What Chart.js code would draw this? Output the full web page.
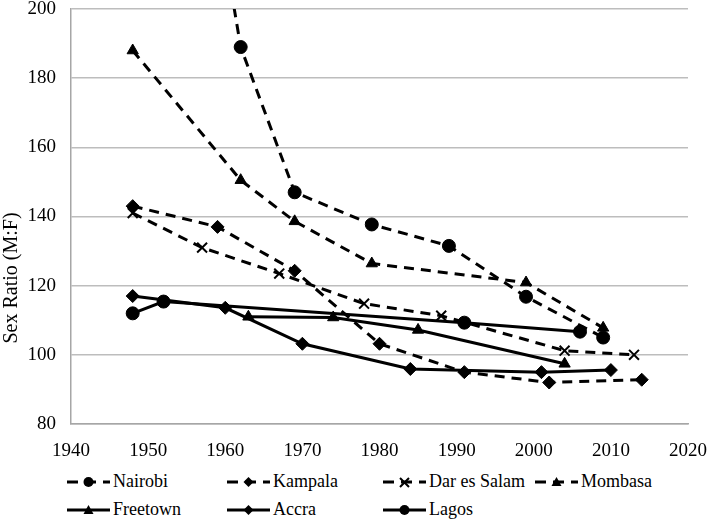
<!DOCTYPE html>
<html>
<head>
<meta charset="utf-8">
<script src="https://cdn.jsdelivr.net/npm/chart.js@4"></script>
<style>
  body { margin: 0; background: #fff; }
  #wrap { position: relative; width: 708px; height: 466px; }
  #legend {
    display: grid;
    grid-template-columns: 160px 156px 152px 170px;
    padding-left: 67px;
    padding-top: 5px;
    row-gap: 7px;
    font-family: "Liberation Serif", "Times New Roman", serif;
    font-size: 18px;
    color: #000;
  }
  .item { display: flex; align-items: center; height: 21px; white-space: nowrap; }
  .item svg { margin-right: 3px; }
</style>
</head>
<body>
<div id="wrap"><canvas id="chart"></canvas></div>
<div id="legend"></div>
<script>
/* DATA */
const nairobiYears = [1948, 1962, 1969, 1979, 1989, 1999, 2009];
const nairobiRatio = [375, 189, 147, 137.7, 131.5, 116.8, 105];

const kampalaYears = [1948, 1959, 1969, 1980, 1991, 2002, 2014];
const kampalaRatio = [143, 137, 124.3, 103.2, 95, 92, 92.8];

const darYears = [1948, 1957, 1967, 1978, 1988, 2004, 2013];
const darRatio = [141, 131, 123.5, 114.8, 111.3, 101.2, 100];

const mombasaYears = [1948, 1962, 1969, 1979, 1999, 2009];
const mombasaRatio = [188, 150.5, 138.6, 126.4, 120.9, 107.8];

const freetownYears = [1963, 1974, 1985, 2004];
const freetownRatio = [111, 110.8, 107.2, 97.4];

const accraYears = [1948, 1960, 1970, 1984, 2001, 2010];
const accraRatio = [117, 113.6, 103.2, 95.9, 95, 95.6];

const lagosYears = [1948, 1952, 1991, 2006];
const lagosRatio = [112, 115.4, 109.3, 106.7];

const xTicks = [1940, 1950, 1960, 1970, 1980, 1990, 2000, 2010, 2020];
const yTicks = [80, 100, 120, 140, 160, 180, 200];

const FONT = '"Liberation Serif", "Times New Roman", serif';
const DASH = [10, 7];

const pts = (xs, ys) => xs.map((x, i) => ({ x: x, y: ys[i] }));

function series(label, xs, ys, marker, dashed) {
  return {
    label: label,
    data: pts(xs, ys),
    borderColor: "#000",
    backgroundColor: "#000",
    borderWidth: 3,
    borderDash: dashed ? DASH : [],
    pointStyle: marker,
    pointRadius: marker === "crossRot" ? 7 : 6.5,
    pointBorderWidth: marker === "crossRot" ? 2 : 1,
    pointBorderColor: "#000",
    pointBackgroundColor: "#000",
    tension: 0,
    _dashed: dashed,
  };
}

const datasets = [
  series("Nairobi", nairobiYears, nairobiRatio, "circle", true),
  series("Kampala", kampalaYears, kampalaRatio, "rectRot", true),
  series("Dar es Salam", darYears, darRatio, "crossRot", true),
  series("Mombasa", mombasaYears, mombasaRatio, "triangle", true),
  series("Freetown", freetownYears, freetownRatio, "triangle", false),
  series("Accra", accraYears, accraRatio, "rectRot", false),
  series("Lagos", lagosYears, lagosRatio, "circle", false),
];

/* Y TITLE */
const yTitle = {
  id: "yTitle",
  afterDraw(chart) {
    const c = chart.ctx;
    c.save();
    c.translate(12, 278);
    c.rotate(-Math.PI / 2);
    c.font = "20px " + FONT;
    c.fillStyle = "#000";
    c.textAlign = "center";
    c.textBaseline = "middle";
    c.fillText("Sex Ratio (M:F)", 0, 0);
    c.restore();
  },
};

new Chart(document.getElementById("chart"), {
  type: "line",
  data: { datasets: datasets },
  plugins: [yTitle],
  options: {
    responsive: true,
    maintainAspectRatio: false,
    animation: false,
    layout: { padding: { left: 0, right: 20, top: 9, bottom: 0 } },
    plugins: { legend: { display: false }, tooltip: { enabled: false } },
    scales: {
      x: {
        type: "linear",
        min: xTicks[0],
        max: xTicks[xTicks.length - 1],
        afterBuildTicks: (s) => { s.ticks = xTicks.map((v) => ({ value: v })); },
        ticks: {
          color: "#000",
          font: { family: FONT, size: 19 },
          padding: 16,
          callback: (v) => String(v),
        },
        grid: { display: false, drawTicks: false },
        border: { color: "#a6a6a6", width: 1.5 },
        afterFit: (s) => { s.height = 42; s.paddingLeft = 0; s.paddingRight = 0; },
      },
      y: {
        min: yTicks[0],
        max: yTicks[yTicks.length - 1],
        afterBuildTicks: (s) => { s.ticks = yTicks.map((v) => ({ value: v })); },
        ticks: {
          color: "#000",
          font: { family: FONT, size: 19 },
          padding: 15,
        },
        grid: { color: "#bdbdbd", lineWidth: 1.5, drawTicks: false },
        border: { color: "#a6a6a6", width: 1.5 },
        afterFit: (s) => { s.width = 71; s.paddingTop = 0; s.paddingBottom = 0; },
      },
    },
  },
});

/* LEGEND */
function sampleSvg(ds) {
  const w = 43, h = 14, cy = 7;
  const line = '<line x1="0" y1="' + cy + '" x2="' + w + '" y2="' + cy +
    '" stroke="#000" stroke-width="3"' +
    (ds._dashed ? ' stroke-dasharray="11,7"' : "") + "/>";
  let m = "";
  if (ds.pointStyle === "circle") {
    m = '<circle cx="21.5" cy="7" r="5" fill="#000"/>';
  } else if (ds.pointStyle === "rectRot") {
    m = '<polygon points="21.5,2 26.5,7 21.5,12 16.5,7" fill="#000"/>';
  } else if (ds.pointStyle === "triangle") {
    m = '<polygon points="21.5,2 26.5,11 16.5,11" fill="#000"/>';
  } else {
    m = '<path d="M17,3 L26,12 M26,3 L17,12" stroke="#000" stroke-width="2"/>';
  }
  return '<svg width="' + w + '" height="' + h + '">' + line + m + "</svg>";
}

const legend = document.getElementById("legend");
datasets.forEach((ds) => {
  const d = document.createElement("div");
  d.className = "item";
  d.innerHTML = sampleSvg(ds) + "<span>" + ds.label + "</span>";
  legend.appendChild(d);
});
</script>
</body>
</html>
